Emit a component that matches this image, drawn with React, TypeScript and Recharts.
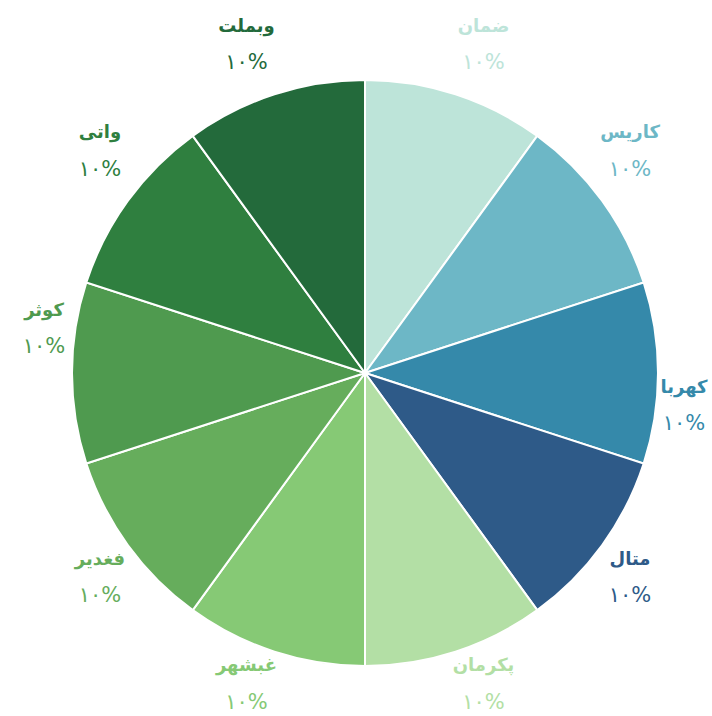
import React from 'react';
import { PieChart, Pie, Cell } from 'recharts';

const names = ['ضمان', 'کاریس', 'کهربا', 'متال', 'پکرمان', 'غبشهر', 'فغدیر', 'کوثر', 'واتی', 'وبملت'];
const shares = [10, 10, 10, 10, 10, 10, 10, 10, 10, 10];
const colors = ['#bde4d9', '#6db7c6', '#3589aa', '#2e5a88', '#b3dfa5', '#86c975', '#66ad5c', '#4f9a4f', '#2f7f3f', '#236a3b'];

const data = names.map((name, i) => ({ name, value: shares[i] }));

const toPersian = (n: number) => String(n).replace(/\d/g, (d) => '۰۱۲۳۴۵۶۷۸۹'[Number(d)]);

const RAD = Math.PI / 180;
const W = 712;

const renderLabel = (props: any) => {
    const { cx, cy, midAngle, outerRadius, index, percent } = props;
    const cos = Math.cos(midAngle * RAD);
    const sin = Math.sin(midAngle * RAD);
    let x = cx + outerRadius * cos + (cos > 0.01 ? 28 : cos < -0.01 ? -28 : 0);
    // keep the label box inside the canvas
    x = Math.min(x, W - 28);
    let dy;
    if (sin > 0.1) dy = -50;
    else if (sin < -0.1) dy = 32;
    else dy = cos > 0 ? 32 : -45;
    const y = cy - outerRadius * sin + dy;
    const color = colors[index];
    return (
        <g>
            <text x={x} y={y - 19} textAnchor="middle" dominantBaseline="central" fill={color} fontSize={18} fontWeight={700}>
                {names[index]}
            </text>
            <text x={x} y={y + 18} textAnchor="middle" dominantBaseline="central" fill={color} fontSize={21}>
                {toPersian(Math.round(percent * 100))}%
            </text>
        </g>
    );
};

export default function App() {
    return (
        <div style={{ position: 'absolute', left: 0, top: 0, width: 712, height: 716, background: '#fff', fontFamily: '"DejaVu Sans", sans-serif' }}>
            <PieChart width={712} height={716} margin={{ top: 0, right: 0, bottom: 0, left: 0 }}>
                <Pie
                    data={data}
                    dataKey="value"
                    nameKey="name"
                    cx={365}
                    cy={373}
                    outerRadius={293}
                    startAngle={90}
                    endAngle={-270}
                    stroke="#ffffff"
                    strokeWidth={2}
                    label={renderLabel}
                    labelLine={false}
                    isAnimationActive={false}
                >
                    {data.map((d, i) => (
                        <Cell key={d.name} fill={colors[i]} />
                    ))}
                </Pie>
            </PieChart>
        </div>
    );
}
